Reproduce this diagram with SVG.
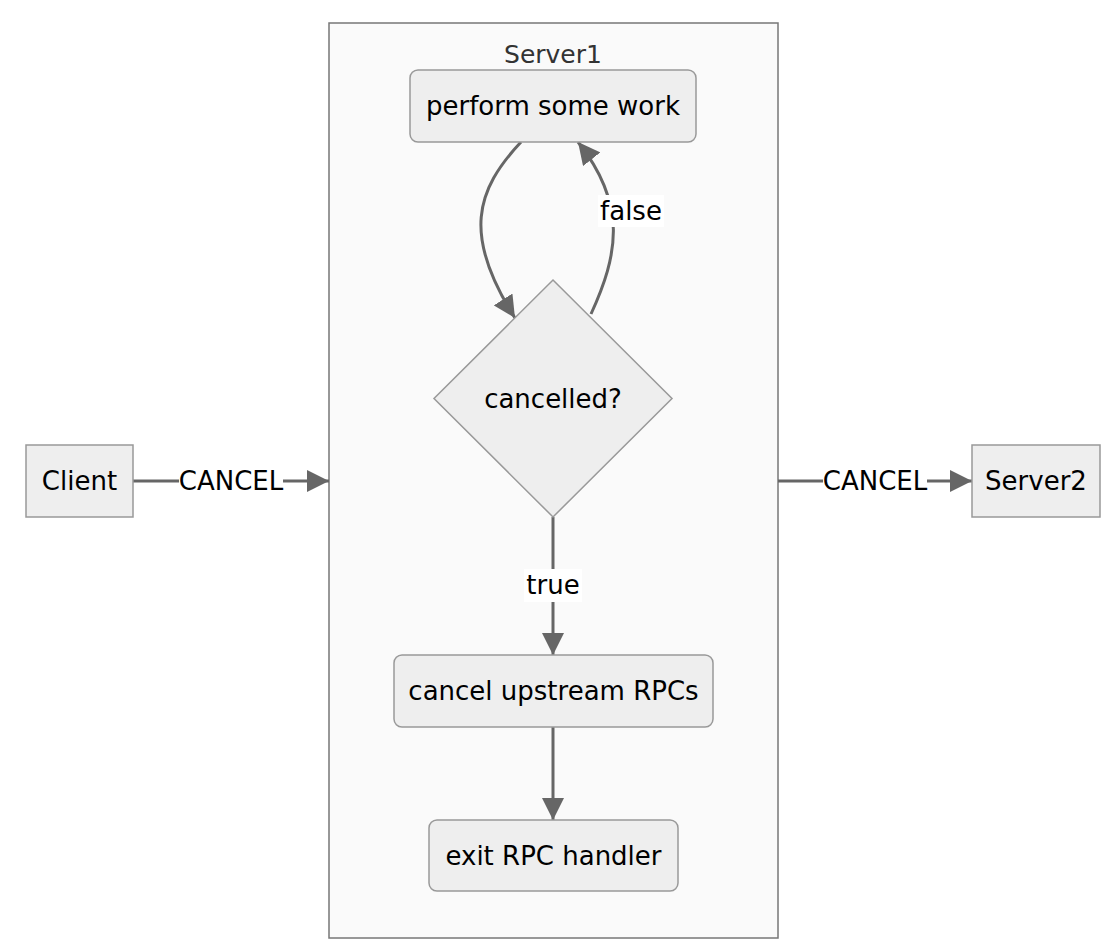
<svg xmlns="http://www.w3.org/2000/svg" width="1119" height="951" viewBox="0 0 1119 951">
<defs>
<marker id="arrB" viewBox="0 0 10 10" refX="10" refY="5" markerWidth="22" markerHeight="22" markerUnits="userSpaceOnUse" orient="auto">
<path d="M0,0 L10,5 L0,10 z" fill="#666"/>
</marker>
<style>
.node rect, .node polygon { fill: #eeeeee; stroke: #999999; stroke-width: 1.5; }
.cluster rect { fill: #fafafa; stroke: #777777; stroke-width: 1.5; }
text { font-family: "DejaVu Sans", "Noto Sans", sans-serif; font-size: 26px; fill: #000; text-anchor: middle; dominant-baseline: central; }
.clabel { fill: #333; font-size: 25px; }
.edge { fill: none; stroke: #666; stroke-width: 3; marker-end: url(#arrB); }
.lbg { fill: #ffffff; }
</style>
</defs>
<rect width="1119" height="951" fill="#ffffff"/>
<g id="cluster-Server1" class="cluster">
<rect x="329" y="23" width="449" height="915"/>
<text class="clabel" x="553" y="54">Server1</text>
</g>
<g id="connectors">
<path class="edge" d="M133,481 L329,481"/>
<path class="edge" d="M778,481 L972,481"/>
<path class="edge" d="M521,142 C476,190 462,235 515,318"/>
<path class="edge" d="M591,314 C618,255 628,205 578,142"/>
<path class="edge" d="M553,517 L553,655"/>
<path class="edge" d="M553,727 L553,820"/>
<rect class="lbg" x="179" y="466" width="104" height="30"/>
<text x="231" y="481">CANCEL</text>
<rect class="lbg" x="823" y="466" width="104" height="30"/>
<text x="875" y="481">CANCEL</text>
<rect class="lbg" x="598" y="195" width="66" height="32"/>
<text x="631" y="211">false</text>
<rect class="lbg" x="524" y="569" width="58" height="33"/>
<text x="553" y="585">true</text>
</g>
<g id="node-Client" class="node">
<rect x="26" y="445" width="107" height="72"/>
<text x="79.5" y="481">Client</text>
</g>
<g id="node-Server2" class="node">
<rect x="972" y="445" width="128" height="72"/>
<text x="1036" y="481">Server2</text>
</g>
<g id="node-work" class="node">
<rect x="410" y="70" width="286" height="72" rx="8" ry="8"/>
<text x="553" y="106">perform some work</text>
</g>
<g id="node-cancelled" class="node">
<polygon points="553,280 672,398.5 553,517 434,398.5"/>
<text x="553" y="398.5">cancelled?</text>
</g>
<g id="node-cancelUp" class="node">
<rect x="394" y="655" width="319" height="72" rx="8" ry="8"/>
<text x="553.5" y="691">cancel upstream RPCs</text>
</g>
<g id="node-exit" class="node">
<rect x="429" y="820" width="249" height="71" rx="8" ry="8"/>
<text x="553.5" y="855.5">exit RPC handler</text>
</g>
</svg>
